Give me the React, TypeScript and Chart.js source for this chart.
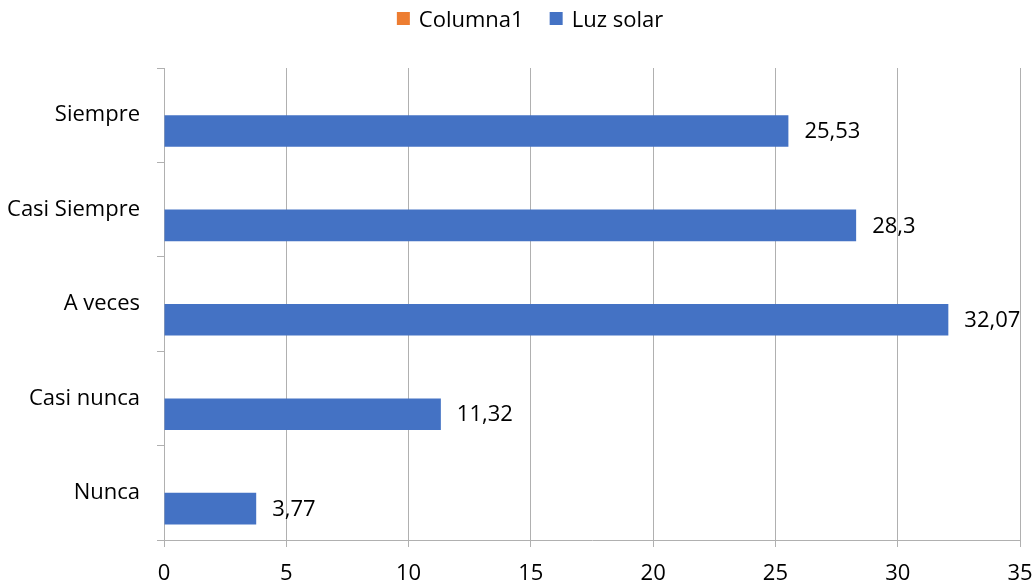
import React, { useEffect, useRef } from "react";
import { Chart, registerables } from "chart.js";

Chart.register(...registerables);

const categories = ["Siempre", "Casi Siempre", "A veces", "Casi nunca", "Nunca"];
const seriesNames = ["Columna1", "Luz solar"];
const seriesColors = ["#ED7D31", "#4472C4"];
const columna1Values: (number | null)[] = [null, null, null, null, null];
const luzSolarValues = [25.53, 28.3, 32.07, 11.32, 3.77];
const xTicks = [0, 5, 10, 15, 20, 25, 30, 35];

const FONT = "'Open Sans', 'Noto Sans', sans-serif";
const FONT_SIZE = 22;
const GRID = "#B0B0B0";

const valueLabels = {
  id: "valueLabels",
  afterDatasetsDraw(chart: any) {
    const ctx = chart.ctx;
    const meta = chart.getDatasetMeta(1);
    ctx.save();
    ctx.font = `${FONT_SIZE}px ${FONT}`;
    ctx.fillStyle = "#000000";
    ctx.textAlign = "left";
    ctx.textBaseline = "middle";
    meta.data.forEach((bar: any, i: number) => {
      const v = luzSolarValues[i];
      ctx.fillText(String(v).replace(".", ","), bar.x + 16, bar.y + 1);
    });
    ctx.restore();
  },
};

const customLegend = {
  id: "customLegend",
  afterDraw(chart: any) {
    const ctx = chart.ctx;
    ctx.save();
    ctx.font = `${FONT_SIZE}px ${FONT}`;
    const box = 13;
    const gap = 9;
    const spacing = 26;
    const widths = seriesNames.map((n) => ctx.measureText(n).width);
    const total =
      widths.reduce((a, w) => a + box + gap + w, 0) + spacing * (seriesNames.length - 1);
    let x = 530 - total / 2;
    const boxTop = 12;
    const baseline = 27;
    seriesNames.forEach((name, i) => {
      ctx.fillStyle = seriesColors[i];
      ctx.fillRect(x, boxTop, box, box);
      ctx.fillStyle = "#000000";
      ctx.textAlign = "left";
      ctx.textBaseline = "alphabetic";
      ctx.fillText(name, x + box + gap, baseline);
      x += box + gap + widths[i] + spacing;
    });
    ctx.restore();
  },
};

export default function App() {
  const ref = useRef<HTMLCanvasElement>(null);
  useEffect(() => {
    document.body.style.margin = "0";
    const chart = new Chart(ref.current!, {
      type: "bar",
      data: {
        labels: categories,
        datasets: [
          {
            label: seriesNames[0],
            data: columna1Values,
            backgroundColor: seriesColors[0],
          },
          {
            label: seriesNames[1],
            data: luzSolarValues,
            backgroundColor: seriesColors[1],
          },
        ],
      },
      options: {
        indexAxis: "y",
        animation: false,
        responsive: false,
        maintainAspectRatio: false,
        datasets: {
          bar: { categoryPercentage: 0.67, barPercentage: 1 },
        },
        layout: { padding: { left: 0, right: 16, top: 68, bottom: 0 } },
        plugins: {
          legend: { display: false },
          tooltip: { enabled: false },
        },
        scales: {
          x: {
            min: 0,
            max: 35,
            afterBuildTicks(scale: any) {
              scale.ticks = xTicks.map((v) => ({ value: v }));
            },
            afterFit(scale: any) {
              scale.height = 44;
              scale.paddingRight = 0;
              scale.paddingLeft = 0;
            },
            grid: {
              color: GRID,
              lineWidth: 1,
              tickLength: 7,
              drawTicks: true,
            },
            border: { display: true, color: GRID },
            ticks: {
              color: "#000000",
              font: { family: FONT, size: FONT_SIZE },
              padding: 14,
              maxRotation: 0,
            },
          },
          y: {
            afterFit(scale: any) {
              scale.width = 164;
              scale.paddingTop = 0;
              scale.paddingBottom = 0;
            },
            grid: {
              display: true,
              drawOnChartArea: false,
              offset: true,
              color: GRID,
              tickLength: 7,
            },
            border: { display: true, color: GRID },
            ticks: {
              color: "#000000",
              font: { family: FONT, size: FONT_SIZE },
              padding: 17,
            },
          },
        },
      },
      plugins: [valueLabels, customLegend],
    });
    return () => chart.destroy();
  }, []);
  return (
    <div style={{ width: 1036, height: 584 }}>
      <canvas ref={ref} width={1036} height={584} style={{ display: "block" }} />
    </div>
  );
}
